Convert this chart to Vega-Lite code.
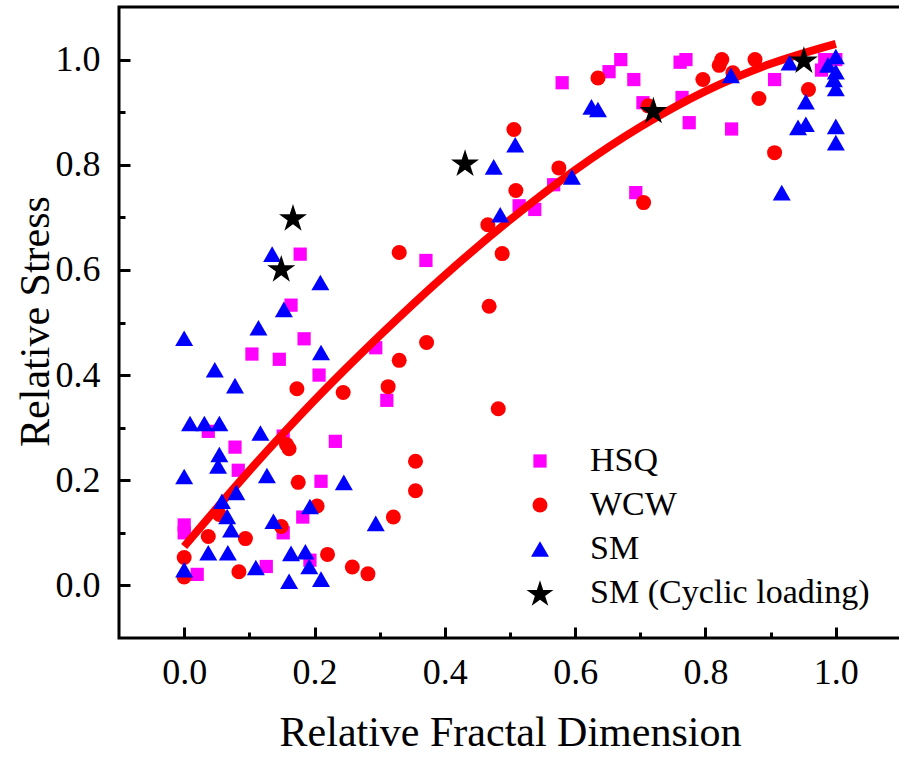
{
  "$schema": "https://vega.github.io/schema/vega-lite/v6.json",
  "width": 782,
  "height": 631,
  "autosize": {"type": "none"},
  "padding": {"left": 119, "top": 7, "right": 0, "bottom": 120},
  "background": "white",
  "config": {
    "view": {"stroke": "black", "strokeWidth": 3},
    "font": "Liberation Serif",
    "axis": {
      "domain": false,
      "grid": false,
      "tickColor": "black",
      "tickWidth": 3,
      "labelFont": "Liberation Serif",
      "labelFontSize": 36,
      "labelColor": "black",
      "titleFont": "Liberation Serif",
      "titleFontSize": 42,
      "titleFontWeight": "normal",
      "titleColor": "black"
    },
    "legend": {
      "labelFont": "Liberation Serif",
      "labelFontSize": 34,
      "labelColor": "black",
      "labelLimit": 0,
      "symbolStrokeWidth": 0
    }
  },
  "datasets": {
    "pts": [
      {"series": "HSQ", "x": 0.178, "y": 0.63},
      {"series": "HSQ", "x": 0.164, "y": 0.533},
      {"series": "HSQ", "x": 0.184, "y": 0.469},
      {"series": "HSQ", "x": 0.104, "y": 0.44},
      {"series": "HSQ", "x": 0.146, "y": 0.43},
      {"series": "HSQ", "x": 0.207, "y": 0.4},
      {"series": "HSQ", "x": 0.037, "y": 0.293},
      {"series": "HSQ", "x": 0.152, "y": 0.284},
      {"series": "HSQ", "x": 0.078, "y": 0.263},
      {"series": "HSQ", "x": 0.083, "y": 0.219},
      {"series": "HSQ", "x": 0.21, "y": 0.198},
      {"series": "HSQ", "x": 0.0, "y": 0.115},
      {"series": "HSQ", "x": 0.0, "y": 0.1},
      {"series": "HSQ", "x": 0.152, "y": 0.1},
      {"series": "HSQ", "x": 0.193, "y": 0.048},
      {"series": "HSQ", "x": 0.02, "y": 0.021},
      {"series": "HSQ", "x": 0.126, "y": 0.036},
      {"series": "HSQ", "x": 0.182, "y": 0.13},
      {"series": "HSQ", "x": 0.371, "y": 0.618},
      {"series": "HSQ", "x": 0.294, "y": 0.452},
      {"series": "HSQ", "x": 0.311, "y": 0.352},
      {"series": "HSQ", "x": 0.232, "y": 0.274},
      {"series": "HSQ", "x": 0.514, "y": 0.722},
      {"series": "HSQ", "x": 0.538, "y": 0.715},
      {"series": "HSQ", "x": 0.567, "y": 0.762},
      {"series": "HSQ", "x": 0.58, "y": 0.956},
      {"series": "HSQ", "x": 0.652, "y": 0.977},
      {"series": "HSQ", "x": 0.67, "y": 1.0},
      {"series": "HSQ", "x": 0.69, "y": 0.962},
      {"series": "HSQ", "x": 0.704, "y": 0.918},
      {"series": "HSQ", "x": 0.693, "y": 0.747},
      {"series": "HSQ", "x": 0.764, "y": 0.928},
      {"series": "HSQ", "x": 0.775, "y": 0.88},
      {"series": "HSQ", "x": 0.761, "y": 0.995},
      {"series": "HSQ", "x": 0.77, "y": 1.0},
      {"series": "HSQ", "x": 0.84, "y": 0.868},
      {"series": "HSQ", "x": 0.906, "y": 0.962},
      {"series": "HSQ", "x": 0.983, "y": 1.0},
      {"series": "HSQ", "x": 0.978, "y": 0.98},
      {"series": "HSQ", "x": 1.0, "y": 1.0},
      {"series": "WCW", "x": 0.173, "y": 0.374},
      {"series": "WCW", "x": 0.157, "y": 0.268},
      {"series": "WCW", "x": 0.161, "y": 0.26},
      {"series": "WCW", "x": 0.175, "y": 0.196},
      {"series": "WCW", "x": 0.054, "y": 0.135},
      {"series": "WCW", "x": 0.204, "y": 0.151},
      {"series": "WCW", "x": 0.149, "y": 0.112},
      {"series": "WCW", "x": 0.037, "y": 0.093},
      {"series": "WCW", "x": 0.094, "y": 0.089},
      {"series": "WCW", "x": 0.0, "y": 0.053},
      {"series": "WCW", "x": 0.0, "y": 0.016},
      {"series": "WCW", "x": 0.084, "y": 0.026},
      {"series": "WCW", "x": 0.22, "y": 0.059},
      {"series": "WCW", "x": 0.258, "y": 0.035},
      {"series": "WCW", "x": 0.282, "y": 0.022},
      {"series": "WCW", "x": 0.321, "y": 0.13},
      {"series": "WCW", "x": 0.355, "y": 0.236},
      {"series": "WCW", "x": 0.355, "y": 0.18},
      {"series": "WCW", "x": 0.33, "y": 0.633},
      {"series": "WCW", "x": 0.372, "y": 0.462},
      {"series": "WCW", "x": 0.33, "y": 0.428},
      {"series": "WCW", "x": 0.244, "y": 0.367},
      {"series": "WCW", "x": 0.313, "y": 0.378},
      {"series": "WCW", "x": 0.482, "y": 0.336},
      {"series": "WCW", "x": 0.466, "y": 0.686},
      {"series": "WCW", "x": 0.488, "y": 0.631},
      {"series": "WCW", "x": 0.468, "y": 0.531},
      {"series": "WCW", "x": 0.506, "y": 0.867},
      {"series": "WCW", "x": 0.509, "y": 0.751},
      {"series": "WCW", "x": 0.575, "y": 0.794},
      {"series": "WCW", "x": 0.635, "y": 0.965},
      {"series": "WCW", "x": 0.712, "y": 0.912},
      {"series": "WCW", "x": 0.705, "y": 0.728},
      {"series": "WCW", "x": 0.825, "y": 1.0},
      {"series": "WCW", "x": 0.821, "y": 0.989},
      {"series": "WCW", "x": 0.796, "y": 0.962},
      {"series": "WCW", "x": 0.842, "y": 0.975},
      {"series": "WCW", "x": 0.876, "y": 1.0},
      {"series": "WCW", "x": 0.882, "y": 0.926},
      {"series": "WCW", "x": 0.958, "y": 0.943},
      {"series": "WCW", "x": 0.906, "y": 0.823},
      {"series": "SM", "x": 0.135, "y": 0.63},
      {"series": "SM", "x": 0.209, "y": 0.576},
      {"series": "SM", "x": 0.153, "y": 0.525},
      {"series": "SM", "x": 0.114, "y": 0.49},
      {"series": "SM", "x": 0.0, "y": 0.47},
      {"series": "SM", "x": 0.21, "y": 0.443},
      {"series": "SM", "x": 0.047, "y": 0.41},
      {"series": "SM", "x": 0.078, "y": 0.38},
      {"series": "SM", "x": 0.009, "y": 0.308},
      {"series": "SM", "x": 0.031, "y": 0.308},
      {"series": "SM", "x": 0.054, "y": 0.308},
      {"series": "SM", "x": 0.117, "y": 0.29},
      {"series": "SM", "x": 0.054, "y": 0.249},
      {"series": "SM", "x": 0.052, "y": 0.227},
      {"series": "SM", "x": 0.0, "y": 0.207},
      {"series": "SM", "x": 0.127, "y": 0.209},
      {"series": "SM", "x": 0.08, "y": 0.177},
      {"series": "SM", "x": 0.058, "y": 0.16},
      {"series": "SM", "x": 0.066, "y": 0.131},
      {"series": "SM", "x": 0.193, "y": 0.15},
      {"series": "SM", "x": 0.072, "y": 0.106},
      {"series": "SM", "x": 0.137, "y": 0.122},
      {"series": "SM", "x": 0.037, "y": 0.062},
      {"series": "SM", "x": 0.067, "y": 0.062},
      {"series": "SM", "x": 0.164, "y": 0.061},
      {"series": "SM", "x": 0.186, "y": 0.064},
      {"series": "SM", "x": 0.192, "y": 0.036},
      {"series": "SM", "x": 0.0, "y": 0.03},
      {"series": "SM", "x": 0.11, "y": 0.034},
      {"series": "SM", "x": 0.161, "y": 0.008},
      {"series": "SM", "x": 0.21, "y": 0.012},
      {"series": "SM", "x": 0.245, "y": 0.196},
      {"series": "SM", "x": 0.294, "y": 0.118},
      {"series": "SM", "x": 0.485, "y": 0.705},
      {"series": "SM", "x": 0.508, "y": 0.838},
      {"series": "SM", "x": 0.475, "y": 0.796},
      {"series": "SM", "x": 0.595, "y": 0.777},
      {"series": "SM", "x": 0.625, "y": 0.91},
      {"series": "SM", "x": 0.635, "y": 0.905},
      {"series": "SM", "x": 0.839, "y": 0.97},
      {"series": "SM", "x": 0.929, "y": 0.994},
      {"series": "SM", "x": 1.0, "y": 1.006},
      {"series": "SM", "x": 0.988, "y": 0.99},
      {"series": "SM", "x": 1.0, "y": 0.977},
      {"series": "SM", "x": 0.997, "y": 0.962},
      {"series": "SM", "x": 1.0, "y": 0.945},
      {"series": "SM", "x": 0.954, "y": 0.92},
      {"series": "SM", "x": 0.942, "y": 0.871},
      {"series": "SM", "x": 0.954, "y": 0.877},
      {"series": "SM", "x": 1.0, "y": 0.873},
      {"series": "SM", "x": 1.0, "y": 0.842},
      {"series": "SM", "x": 0.917, "y": 0.747},
      {"series": "SM (Cyclic loading)", "x": 0.167, "y": 0.7},
      {"series": "SM (Cyclic loading)", "x": 0.149, "y": 0.603},
      {"series": "SM (Cyclic loading)", "x": 0.431, "y": 0.804},
      {"series": "SM (Cyclic loading)", "x": 0.72, "y": 0.904},
      {"series": "SM (Cyclic loading)", "x": 0.951, "y": 1.0}
    ],
    "fit": [
      {"x": 0.0, "y": 0.074},
      {"x": 0.1, "y": 0.218},
      {"x": 0.2, "y": 0.352},
      {"x": 0.3, "y": 0.475},
      {"x": 0.4, "y": 0.59},
      {"x": 0.5, "y": 0.695},
      {"x": 0.6, "y": 0.79},
      {"x": 0.7, "y": 0.872},
      {"x": 0.8, "y": 0.94},
      {"x": 0.9, "y": 0.992},
      {"x": 1.0, "y": 1.03}
    ]
  },
  "layer": [
    {
      "data": {"name": "pts"},
      "transform": [{"filter": "datum.series == 'HSQ'"}],
      "mark": {"type": "point", "filled": true, "opacity": 1, "strokeWidth": 0, "size": 175},
      "encoding": {
        "x": {
          "field": "x", "type": "quantitative",
          "scale": {"domain": [-0.1, 1.1], "nice": false, "zero": false},
          "axis": {"orient": "bottom", "values": [0, 0.2, 0.4, 0.6, 0.8, 1.0], "format": ".1f", "tickSize": -11, "labelPadding": 28, "title": "Relative Fractal Dimension", "titlePadding": 22}
        },
        "y": {
          "field": "y", "type": "quantitative",
          "scale": {"domain": [-0.1, 1.1], "nice": false, "zero": false},
          "axis": {"orient": "left", "values": [0, 0.2, 0.4, 0.6, 0.8, 1.0], "format": ".1f", "tickSize": -11, "labelPadding": 30, "title": "Relative Stress", "titleX": -84, "titleY": 314, "titleAngle": 270, "titleAlign": "center", "titleBaseline": "middle"}
        },
        "color": {
          "field": "series", "type": "nominal",
          "scale": {"domain": ["HSQ", "WCW", "SM", "SM (Cyclic loading)"], "range": ["#FF00FF", "#FF0000", "#0000FF", "#000000"]},
          "legend": {"title": null, "orient": "none", "legendX": 404, "legendY": 437, "padding": 0, "rowPadding": 10, "labelOffset": 33,
            "symbolSize": {"expr": "datum.value === 'HSQ' ? 175 : datum.value === 'WCW' ? 225 : datum.value === 'SM' ? 324 : 800"}}
        },
        "shape": {
          "field": "series", "type": "nominal",
          "scale": {"domain": ["HSQ", "WCW", "SM", "SM (Cyclic loading)"], "range": ["square", "circle", "triangle-up", "M0,-0.905L0.225,-0.214L0.951,-0.214L0.363,0.213L0.588,0.904L0,0.477L-0.588,0.904L-0.363,0.213L-0.951,-0.214L-0.225,-0.214Z"]},
          "legend": {"title": null, "orient": "none", "legendX": 404, "legendY": 437, "padding": 0, "rowPadding": 10, "labelOffset": 33,
            "symbolSize": {"expr": "datum.value === 'HSQ' ? 175 : datum.value === 'WCW' ? 225 : datum.value === 'SM' ? 324 : 800"}}
        }
      }
    },
    {
      "data": {"name": "pts"},
      "transform": [{"filter": "datum.series == 'WCW'"}],
      "mark": {"type": "point", "filled": true, "opacity": 1, "strokeWidth": 0, "size": 225},
      "encoding": {
        "x": {"field": "x", "type": "quantitative", "axis": null},
        "y": {"field": "y", "type": "quantitative", "axis": null},
        "color": {"field": "series", "type": "nominal"},
        "shape": {"field": "series", "type": "nominal"}
      }
    },
    {
      "data": {"name": "fit"},
      "mark": {"type": "line", "color": "#FF0000", "strokeWidth": 8, "interpolate": "monotone"},
      "encoding": {
        "x": {
          "field": "x", "type": "quantitative",
          "axis": {"orient": "bottom", "values": [0.1, 0.3, 0.5, 0.7, 0.9], "labels": false, "tickSize": -6, "title": null}
        },
        "y": {
          "field": "y", "type": "quantitative",
          "axis": {"orient": "left", "values": [0.1, 0.3, 0.5, 0.7, 0.9], "labels": false, "tickSize": -6, "title": null}
        }
      }
    },
    {
      "data": {"name": "pts"},
      "transform": [{"filter": "datum.series == 'SM'"}],
      "mark": {"type": "point", "filled": true, "opacity": 1, "strokeWidth": 0, "size": 324},
      "encoding": {
        "x": {"field": "x", "type": "quantitative", "axis": null},
        "y": {"field": "y", "type": "quantitative", "axis": null},
        "color": {"field": "series", "type": "nominal"},
        "shape": {"field": "series", "type": "nominal"}
      }
    },
    {
      "data": {"name": "pts"},
      "transform": [{"filter": "datum.series == 'SM (Cyclic loading)'"}],
      "mark": {"type": "point", "filled": true, "opacity": 1, "strokeWidth": 0, "size": 866},
      "encoding": {
        "x": {"field": "x", "type": "quantitative", "axis": null},
        "y": {"field": "y", "type": "quantitative", "axis": null},
        "color": {"field": "series", "type": "nominal"},
        "shape": {"field": "series", "type": "nominal"}
      }
    },
    {
      "mark": {"type": "text", "text": "R² = 0.85", "align": "left", "baseline": "alphabetic", "font": "Liberation Serif", "fontSize": 39, "color": "black"},
      "encoding": {
        "x": {"datum": -0.013, "type": "quantitative", "axis": null},
        "y": {"datum": 0.939, "type": "quantitative", "axis": null}
      }
    }
  ],
  "resolve": {"axis": {"x": "independent", "y": "independent"}}
}
